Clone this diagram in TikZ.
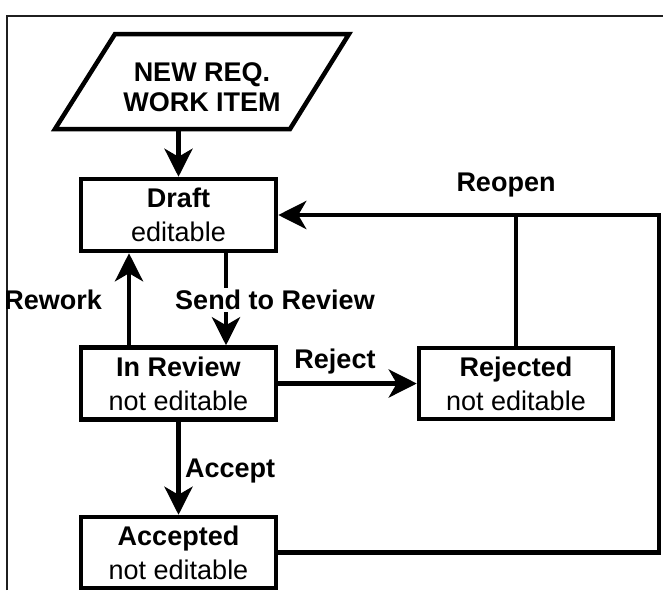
\documentclass[tikz,border=0pt]{standalone}
\usepackage{fontspec}
\setmainfont{Liberation Sans}
\usetikzlibrary{arrows.meta}
\begin{document}
\begin{tikzpicture}[x=1pt,y=-1pt,
  box/.style={draw, line width=4.5pt, minimum width=195pt, minimum height=72pt, inner sep=0pt, align=center, font=\fontsize{27}{34}\selectfont},
  lbl/.style={font=\fontsize{27}{30}\selectfont\bfseries, inner sep=2pt},
  conn/.style={line width=4.5pt},
  arr/.style={conn, -{Stealth[length=28pt,width=28pt,inset=8pt]}},
]
\useasboundingbox (0,0) rectangle (663,590);
% frame of the cropped screenshot
\draw[line width=2pt, color=black!88] (6.7,590) -- (6.7,15.5) -- (663,15.5);

% start item
\node[lbl, align=center] (newreq) at (202,87) {NEW REQ.\\WORK ITEM};
\draw[conn, line join=miter] (115,34) -- (349,34) -- (290,129) -- (55,129) -- cycle;

% states
\node[box] (draft) at (178.5,215) {\textbf{Draft}\\editable};
\node[box] (inrev) at (178.5,383.5) {\textbf{In Review}\\not editable};
\node[box, minimum width=194pt, minimum height=71pt] (rejected) at (516,383.5) {\textbf{Rejected}\\not editable};
\node[box, minimum height=71pt] (accepted) at (178.5,552.5) {\textbf{Accepted}\\not editable};

\coordinate (nrb) at (178.5,129);
\coordinate (rt) at (659,0);

% connectors
\draw[arr] (nrb) -- (draft.north);
\draw[arr] ([xshift=-49.5pt]inrev.north) -- ([xshift=-49.5pt]draft.south);
\draw[arr] ([xshift=47.5pt]draft.south) -- ([xshift=47.5pt]inrev.north);
\draw[arr] (inrev.east) -- (rejected.west);
\draw[arr] (inrev.south) -- (accepted.north);
\draw[arr, line join=miter] (accepted.east) -- (accepted.east -| rt) -- (draft.east -| rt) -- (draft.east);
\draw[conn] (rejected.north) -- (rejected.north |- draft.east);

% labels
\node[lbl, anchor=east] (rework) at (104,300) {Rework};
\node[lbl, fill=white] (send) at (275,300) {Send to Review};
\node[lbl] (reopen) at (506,185) {Reopen};
\node[lbl] (reject) at (335,362) {Reject};
\node[lbl, anchor=west] (accept) at (183,471) {Accept};
\end{tikzpicture}
\end{document}
